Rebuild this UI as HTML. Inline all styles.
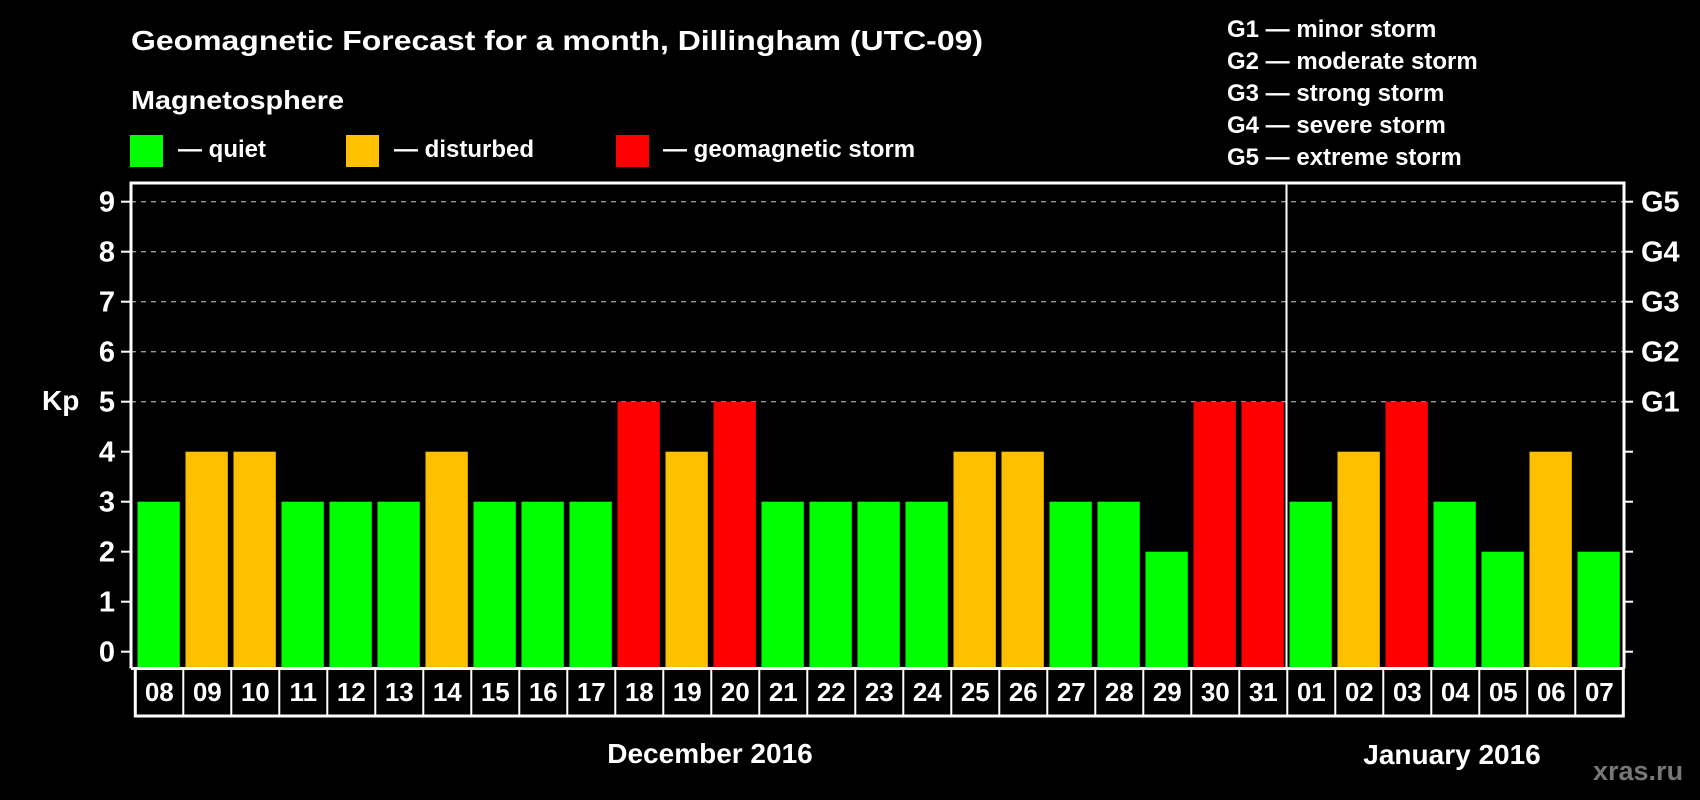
<!DOCTYPE html>
<html><head><meta charset="utf-8"><style>
html,body{margin:0;padding:0;background:#000;}
svg{display:block;font-family:"Liberation Sans",Arial,sans-serif;font-weight:bold;}
</style></head><body>
<svg id="chart" width="1700" height="800" viewBox="0 0 1700 800" xmlns="http://www.w3.org/2000/svg">
<rect x="0" y="0" width="1700" height="800" fill="#000"/>
<text x="131" y="50" font-size="28" fill="#fff" textLength="852" lengthAdjust="spacingAndGlyphs">Geomagnetic Forecast for a month, Dillingham (UTC-09)</text>
<text x="131" y="109" font-size="26" fill="#fff" textLength="213" lengthAdjust="spacingAndGlyphs">Magnetosphere</text>
<g>
<rect x="130" y="135" width="33" height="32" fill="#00ff00"/>
<text x="178" y="157" font-size="24" fill="#fff">— quiet</text></g>
<g>
<rect x="346" y="135" width="33" height="32" fill="#ffc000"/>
<text x="394" y="157" font-size="24" fill="#fff">— disturbed</text></g>
<g>
<rect x="616" y="135" width="33" height="32" fill="#ff0000"/>
<text x="663" y="157" font-size="24" fill="#fff">— geomagnetic storm</text></g>
<g font-size="24" fill="#fff">
<text x="1227" y="37">G1 — minor storm</text>
<text x="1227" y="69">G2 — moderate storm</text>
<text x="1227" y="101">G3 — strong storm</text>
<text x="1227" y="133">G4 — severe storm</text>
<text x="1227" y="165">G5 — extreme storm</text>
</g>
<text x="42" y="410" font-size="28" fill="#fff">Kp</text>
<text x="710" y="763" font-size="28" fill="#fff" text-anchor="middle">December 2016</text>
<text x="1452" y="764" font-size="28" fill="#fff" text-anchor="middle">January 2016</text>
<text x="1593" y="780" font-size="27" fill="#777">xras.ru</text>
<g id="grid"></g><g id="bars"></g><g id="axes"></g>
</svg>
<script>
const days = ["08","09","10","11","12","13","14","15","16","17","18","19","20","21","22","23","24","25","26","27","28","29","30","31","01","02","03","04","05","06","07"];
const kpValues = [3,4,4,3,3,3,4,3,3,3,5,4,5,3,3,3,3,4,4,3,3,2,5,5,3,4,5,3,2,4,2];
const yTicks = [0,1,2,3,4,5,6,7,8,9];
const gLevels = [5,6,7,8,9];
const gLabels = ["G1","G2","G3","G4","G5"];
const monthBreakIndex = 24;

const NS = "http://www.w3.org/2000/svg";
const L = 131, R = 1624, T = 183, B = 668.5;
const step = 48, x0 = 137.5, bw = 42.3;
function yScale(v){ return 651.7 - 50*v; }
function xScale(i){ return x0 + step*i; }
function color(v){ return v>=5 ? "#ff0000" : (v>=4 ? "#ffc000" : "#00ff00"); }
function mk(tag, attrs, parent){ const e=document.createElementNS(NS,tag); for(const k in attrs) e.setAttribute(k,attrs[k]); parent.appendChild(e); return e; }
const grid=document.getElementById("grid"), bars=document.getElementById("bars"), axes=document.getElementById("axes");

gLevels.forEach((v,k)=>{
  const y=yScale(v);
  const l=mk("line",{x1:L,x2:R,y1:y,y2:y,stroke:"#999","stroke-width":1.3,"stroke-dasharray":"5,5"},grid);
  
  
  const t=mk("text",{x:1641,y:y+10,"font-size":29,fill:"#fff"},axes);
  t.textContent=gLabels[k];
  
  
});
yTicks.forEach(v=>{
  const y=yScale(v);
  const a=mk("line",{x1:121,x2:L,y1:y,y2:y,stroke:"#fff","stroke-width":2},axes);
  
  
  const b=mk("line",{x1:R,x2:1633,y1:y,y2:y,stroke:"#fff","stroke-width":2},axes);
  
  
  const t=mk("text",{x:115,y:y+10,"font-size":29,fill:"#fff","text-anchor":"end"},axes);
  t.textContent=String(v);
  
  
});
kpValues.forEach((v,i)=>{
  const y=yScale(v);
  const r=mk("rect",{x:xScale(i),y:y,width:bw,height:B-y,fill:color(v)},bars);
  
  
});
// frame
const fr=mk("polyline",{points:`${L},${B} ${L},${T} ${R},${T} ${R},${B}`,fill:"none",stroke:"#fff","stroke-width":3},axes);


const sx=xScale(monthBreakIndex)-3;
const sep=mk("line",{x1:sx,x2:sx,y1:T,y2:B,stroke:"#fff","stroke-width":2},axes);


// date boxes
const bx0 = xScale(0)-2.2, bR = xScale(days.length-1)-2.2+step;
const box=mk("rect",{x:bx0,y:B,width:bR-bx0,height:716-B,fill:"none",stroke:"#fff","stroke-width":3},axes);


mk("line",{x1:L,x2:R,y1:B,y2:B,stroke:"#fff","stroke-width":3},axes);
days.forEach((d,i)=>{
  const bx=xScale(i)-2.2;
  if(i>0){
    const l=mk("line",{x1:bx,x2:bx,y1:B,y2:716,stroke:"#fff","stroke-width":2},axes);
    
    
  }
  const t=mk("text",{x:bx+step/2,y:701,"font-size":26,fill:"#fff","text-anchor":"middle"},axes);
  t.textContent=d;
  
  
});
</script>
</body></html>
